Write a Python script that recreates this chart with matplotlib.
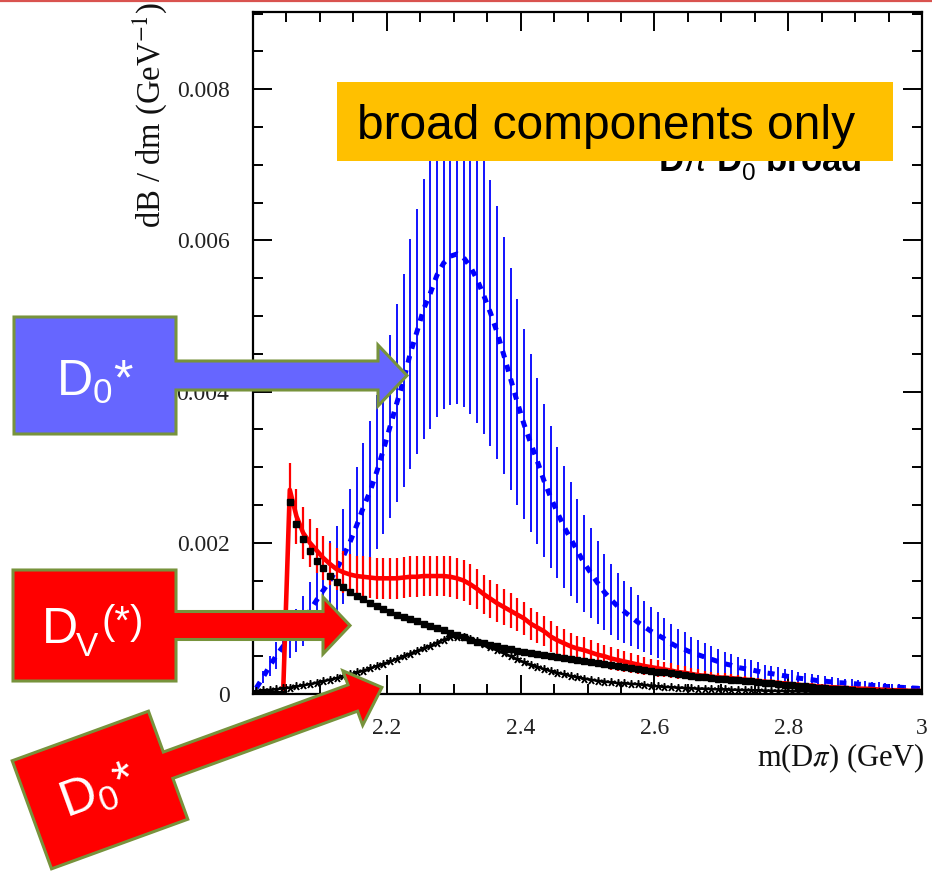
import numpy as np
import matplotlib
matplotlib.use("Agg")
import matplotlib.pyplot as plt
from matplotlib.patches import Polygon, Rectangle
from matplotlib.ticker import MultipleLocator, FixedLocator, FixedFormatter

plt.rcParams['mathtext.fontset'] = 'custom'
plt.rcParams['mathtext.rm'] = 'Liberation Sans'
plt.rcParams['mathtext.it'] = 'Liberation Sans:italic'
plt.rcParams['mathtext.bf'] = 'Liberation Sans:bold'

# ---- binned spectra, m(D pi) from 2.0 to 3.0 GeV in 0.01 GeV bins (values in 1e-4 / GeV) ----
SCALE = 1e-4
bin_edges = np.linspace(2.0, 3.0, 101)

d0star_broad = [0.8, 2.2, 3.7, 5.1, 6.3, 7.3, 8.4, 9.7, 11.0, 12.4,
                13.7, 15.0, 16.5, 18.2, 20.1, 22.3, 24.7, 26.8, 29.4, 32.3,
                35.4, 38.5, 41.5, 45.0, 47.9, 50.9, 53.0, 55.4, 57.0, 57.9,
                58.2, 57.7, 56.5, 54.8, 52.7, 50.4, 47.8, 44.8, 41.7, 38.6,
                35.7, 33.2, 30.8, 28.2, 26.0, 24.0, 22.1, 20.5, 18.9, 17.3,
                16.0, 14.7, 13.5, 12.5, 11.6, 10.9, 10.2, 9.5, 8.9, 8.3,
                7.8, 7.3, 6.7, 6.2, 5.9, 5.5, 5.2, 4.9, 4.6, 4.3,
                4.0, 3.8, 3.5, 3.35, 3.2, 3.0, 2.8, 2.7, 2.55, 2.4,
                2.25, 2.1, 2.0, 1.9, 1.75, 1.7, 1.6, 1.5, 1.45, 1.4,
                1.3, 1.25, 1.15, 1.1, 1.0, 0.95, 0.9, 0.85, 0.8, 0.75]
d0star_broad_err = [0.3, 0.8, 1.3, 1.8, 2.2, 2.5, 2.9, 3.3, 3.8, 4.3,
                    4.7, 5.2, 5.7, 6.3, 7.0, 7.7, 8.5, 9.3, 10.2, 11.1,
                    12.1, 13.1, 14.1, 15.2, 16.2, 17.2, 17.9, 18.7, 19.3, 19.7,
                    19.9, 19.8, 19.5, 19.0, 18.3, 17.6, 16.7, 15.7, 14.7, 13.6,
                    12.6, 11.8, 11.0, 10.1, 9.4, 8.7, 8.1, 7.5, 6.9, 6.4,
                    5.9, 5.5, 5.0, 4.7, 4.4, 4.1, 3.9, 3.6, 3.4, 3.2,
                    3.0, 2.8, 2.6, 2.4, 2.3, 2.1, 2.0, 1.9, 1.8, 1.7,
                    1.55, 1.5, 1.4, 1.3, 1.25, 1.2, 1.1, 1.05, 1.0, 0.95,
                    0.9, 0.85, 0.8, 0.75, 0.7, 0.68, 0.64, 0.6, 0.58, 0.56,
                    0.52, 0.5, 0.46, 0.44, 0.4, 0.38, 0.36, 0.34, 0.32, 0.3]

dv_virtual = [0, 0, 0, 0, 0, 27.0, 23.5, 21.3, 20.0, 19.0,
              18.0, 17.2, 16.5, 16.1, 15.8, 15.6, 15.5, 15.4, 15.3, 15.3,
              15.3, 15.3, 15.4, 15.5, 15.5, 15.6, 15.6, 15.6, 15.6, 15.5,
              15.3, 15.0, 14.5, 13.9, 13.2, 12.6, 12.0, 11.5, 11.0, 10.5,
              10.0, 9.3, 8.8, 8.3, 7.6, 7.1, 6.7, 6.3, 6.0, 5.8,
              5.5, 5.2, 5.0, 4.7, 4.5, 4.3, 4.1, 3.9, 3.7, 3.55,
              3.4, 3.25, 3.1, 2.9, 2.8, 2.65, 2.5, 2.4, 2.3, 2.2,
              2.15, 2.1, 2.0, 1.9, 1.8, 1.7, 1.6, 1.55, 1.45, 1.4,
              1.3, 1.2, 1.15, 1.1, 1.0, 0.95, 0.9, 0.85, 0.8, 0.75,
              0.7, 0.7, 0.65, 0.6, 0.55, 0.5, 0.5, 0.45, 0.4, 0.4]
dv_virtual_err = [0, 0, 0, 0, 0, 3.5, 3.6, 3.4, 3.2, 3.0,
                  2.9, 2.8, 2.8, 2.8, 2.7, 2.7, 2.7, 2.7, 2.7, 2.7,
                  2.7, 2.7, 2.7, 2.7, 2.7, 2.7, 2.7, 2.7, 2.7, 2.7,
                  2.7, 2.7, 2.7, 2.6, 2.6, 2.5, 2.5, 2.4, 2.3, 2.2,
                  2.2, 2.1, 2.1, 2.0, 2.0, 1.9, 1.9, 1.8, 1.7, 1.7,
                  1.6, 1.6, 1.5, 1.5, 1.4, 1.4, 1.3, 1.2, 1.2, 1.1,
                  1.1, 1.0, 0.95, 0.9, 0.85, 0.8, 0.75, 0.7, 0.65, 0.6,
                  0.6, 0.55, 0.55, 0.5, 0.5, 0.45, 0.45, 0.4, 0.4, 0.38,
                  0.35, 0.33, 0.32, 0.3, 0.28, 0.26, 0.25, 0.24, 0.22, 0.2,
                  0.2, 0.2, 0.18, 0.17, 0.16, 0.15, 0.15, 0.14, 0.13, 0.12]

dv_squares = [0, 0, 0, 0, 0, 25.4, 22.5, 20.5, 18.9, 17.6,
              16.6, 15.6, 14.8, 14.1, 13.5, 13.0, 12.5, 12.0, 11.6, 11.2,
              10.9, 10.5, 10.2, 9.9, 9.6, 9.3, 9.0, 8.7, 8.4, 8.1,
              7.8, 7.5, 7.2, 6.9, 6.7, 6.5, 6.3, 6.1, 5.9, 5.75,
              5.6, 5.45, 5.3, 5.15, 5.0, 4.9, 4.8, 4.65, 4.5, 4.35,
              4.2, 4.1, 3.95, 3.8, 3.7, 3.55, 3.4, 3.3, 3.2, 3.05,
              2.95, 2.85, 2.75, 2.6, 2.5, 2.4, 2.3, 2.2, 2.1, 2.0,
              1.95, 1.9, 1.8, 1.75, 1.7, 1.6, 1.5, 1.45, 1.35, 1.25,
              1.15, 1.05, 1.0, 0.95, 0.85, 0.8, 0.7, 0.65, 0.6, 0.5,
              0.45, 0.4, 0.35, 0.3, 0.3, 0.25, 0.25, 0.2, 0.2, 0.2]

d0star_stars = [0.4, 0.5, 0.55, 0.65, 0.75, 0.85, 1.0, 1.15, 1.3, 1.5,
                1.7, 1.9, 2.1, 2.35, 2.6, 2.85, 3.1, 3.4, 3.7, 4.0,
                4.3, 4.65, 5.0, 5.35, 5.7, 6.05, 6.4, 6.8, 7.2, 7.5,
                7.6, 7.5, 7.3, 7.0, 6.6, 6.2, 5.8, 5.4, 5.0, 4.6,
                4.2, 3.9, 3.6, 3.3, 3.05, 2.8, 2.6, 2.4, 2.2, 2.05,
                1.9, 1.75, 1.65, 1.55, 1.45, 1.4, 1.35, 1.3, 1.2, 1.12,
                1.0, 0.95, 0.9, 0.85, 0.8, 0.75, 0.72, 0.7, 0.65, 0.62,
                0.6, 0.57, 0.55, 0.52, 0.5, 0.47, 0.45, 0.43, 0.41, 0.39,
                0.37, 0.35, 0.34, 0.32, 0.31, 0.3, 0.29, 0.28, 0.27, 0.26,
                0.25, 0.24, 0.23, 0.22, 0.21, 0.2, 0.19, 0.18, 0.17, 0.16]

x_tick_values = [2.0, 2.2, 2.4, 2.6, 2.8, 3.0]
x_tick_labels = ["", "2.2", "2.4", "2.6", "2.8", "3"]
y_tick_values = [0.0, 0.002, 0.004, 0.006, 0.008]
y_tick_labels = ["0", "0.002", "0.004", "0.006", "0.008"]

centers = 0.5 * (bin_edges[:-1] + bin_edges[1:])
blue = np.array(d0star_broad) * SCALE
blue_err = np.array(d0star_broad_err) * SCALE
red = np.array(dv_virtual) * SCALE
red_err = np.array(dv_virtual_err) * SCALE
squares = np.array(dv_squares) * SCALE
stars = np.array(d0star_stars) * SCALE

W, H = 932, 872
fig = plt.figure(figsize=(W / 100, H / 100), dpi=100)
fig.patch.set_facecolor("white")

ax = fig.add_axes([253 / W, 1 - 694 / H, 669 / W, 682 / H])
ax.set_xlim(2.0, 3.0)
ax.set_ylim(0, 0.00902)

# histogram-style spectra
ax.vlines(centers, blue - blue_err, blue + blue_err, color="#0000ff", lw=1.3, zorder=2)
ax.plot(centers, blue, color="#0000ff", lw=3.6, ls=(0, (1.4, 1.5)), zorder=3)
has_red = red > 0
ax.vlines(centers[has_red], (red - red_err)[has_red], (red + red_err)[has_red],
          color="#ff0000", lw=1.6, zorder=4)
ax.plot(centers, red, color="#ff0000", lw=3.3, zorder=5)
ax.plot(centers, squares, ls="none", marker="s", ms=3.8, color="black", zorder=6)
ax.plot(centers, stars, color="black", lw=1.8, marker=(5, 2, 0), ms=6, mew=1.1, zorder=7)

# ROOT-like frame: ticks inside on all four sides
for sp in ax.spines.values():
    sp.set_linewidth(1.6)
ax.xaxis.set_major_locator(FixedLocator(x_tick_values))
ax.xaxis.set_major_formatter(FixedFormatter(x_tick_labels))
ax.xaxis.set_minor_locator(MultipleLocator(0.05))
ax.yaxis.set_major_locator(FixedLocator(y_tick_values))
ax.yaxis.set_major_formatter(FixedFormatter(y_tick_labels))
ax.yaxis.set_minor_locator(MultipleLocator(0.0005))
ax.tick_params(which="both", direction="in", top=True, right=True, width=1.4, colors="black")
ax.tick_params(which="major", length=14)
ax.tick_params(which="minor", length=7)
ax.tick_params(axis="x", which="major", pad=17)
ax.tick_params(axis="y", which="major", pad=17)
for lab in ax.get_xticklabels() + ax.get_yticklabels():
    lab.set_fontfamily("Liberation Serif")
    lab.set_fontsize(17)
    lab.set_color("#222222")

# overlay in pixel coordinates for titles and slide annotations
ov = fig.add_axes([0, 0, 1, 1], zorder=10)
ov.set_xlim(0, W)
ov.set_ylim(H, 0)
ov.axis("off")
ov.patch.set_alpha(0)

ov.plot([0, W], [1, 1], color="#d9534f", lw=1.6, solid_capstyle="butt")

ov.text(925, 766, r"m(D$\pi$) (GeV)", ha="right", va="baseline", fontsize=22,
        family="Liberation Serif", math_fontfamily="stix", color="#111111")
ov.text(150, 2, r"dB / dm (GeV$^{-1}$)", ha="center", va="top", rotation=90, fontsize=23.5,
        family="Liberation Serif", math_fontfamily="stix", color="#111111")

# partially covered legend text of the original plot
ov.text(658, 171, r"D$\pi$ D$_{0}^{*}$ broad", ha="left", va="baseline", fontsize=25,
        fontweight="bold", family="Liberation Sans", color="black", zorder=1)

ov.add_patch(Rectangle((337, 82), 556, 79, facecolor="#ffc000", edgecolor="none", zorder=2))
ov.text(357, 139, "broad components only", ha="left", va="baseline", fontsize=34.5,
        family="Liberation Sans", color="black", zorder=3)

EDGE = "#77933c"


def callout(box_w, box_h, shaft_h, head_h, head_len, total_len):
    """Rectangle-with-arrow outline in local coordinates (box centred at origin)."""
    bx, by = box_w / 2, box_h / 2
    sy, hy = shaft_h / 2, head_h / 2
    x_head = total_len - head_len
    return np.array([(-bx, -by), (bx, -by), (bx, -sy), (x_head, -sy), (x_head, -hy),
                     (total_len, 0), (x_head, hy), (x_head, sy), (bx, sy), (bx, by), (-bx, by)])


def place(pts, cx, cy, angle_deg):
    t = np.deg2rad(angle_deg)
    d = np.array([np.cos(t), -np.sin(t)])
    n = np.array([np.sin(t), np.cos(t)])
    return np.array([cx, cy]) + pts[:, :1] * d + pts[:, 1:2] * n


SANS = dict(family="Liberation Sans", color="white", zorder=5)

# blue D0* callout
pts = place(callout(162, 117, 29, 61, 29, 407 - 95), 95, 375.5, 0)
ov.add_patch(Polygon(pts, closed=True, facecolor="#6666ff", edgecolor=EDGE, lw=2.2, zorder=4))
ov.text(95, 396, r"D$_0$*", ha="center", va="baseline", fontsize=36,
        math_fontfamily="custom", **SANS)

# red D_V(*) callout
pts = place(callout(163, 111, 28, 57, 27, 350 - 94.5), 94.5, 625.5, 0)
ov.add_patch(Polygon(pts, closed=True, facecolor="#ff0000", edgecolor=EDGE, lw=2.2, zorder=4))
ov.text(42, 643, "D", ha="left", va="baseline", fontsize=36, **SANS)
ov.text(76, 656, "V", ha="left", va="baseline", fontsize=24, **SANS)
ov.text(101, 634, "(*)", ha="left", va="baseline", fontsize=29, **SANS)

# tilted red D0* callout
pts = place(callout(145, 115, 28, 58, 31, 300), 100, 790, 20)
ov.add_patch(Polygon(pts, closed=True, facecolor="#ff0000", edgecolor=EDGE, lw=2.2, zorder=4))
ov.text(99, 793, r"D$_0$*", ha="center", va="center", rotation=20, rotation_mode="anchor",
        fontsize=36, math_fontfamily="custom", **SANS)

fig.savefig("out.png", dpi=100, facecolor="white")
